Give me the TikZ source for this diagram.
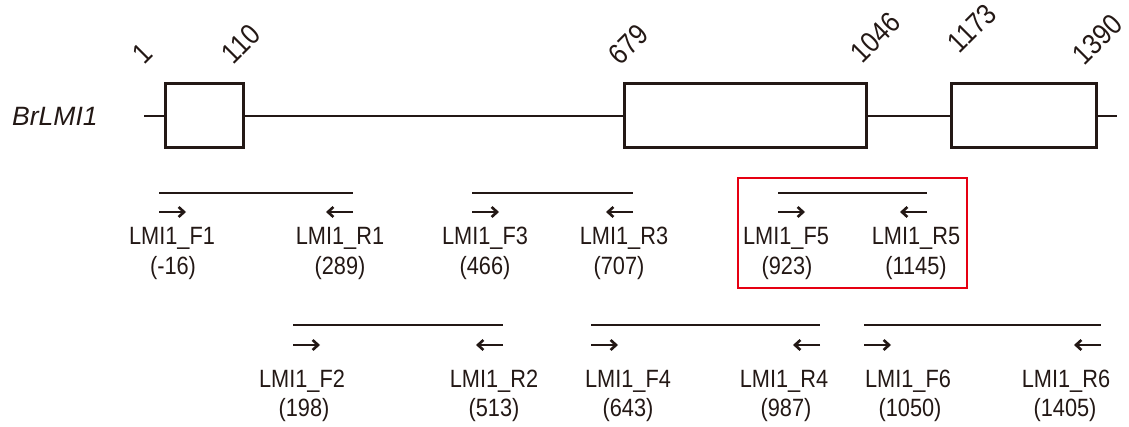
\documentclass[tikz,border=0pt]{standalone}
\usepackage{fontspec}
\setmainfont{Liberation Sans}
\newfontfamily\narrowsans[FakeStretch=0.87]{Liberation Sans}
\usetikzlibrary{arrows.meta}
\definecolor{ink}{HTML}{231815}
\definecolor{boxred}{HTML}{E60012}
\tikzset{
  exon/.style={draw=ink, line width=3pt, fill=white, inner sep=0pt, minimum height=64pt},
  intron/.style={draw=ink, line width=2.2pt},
  boundary/.style={rotate=45, anchor=south west, inner sep=0pt, font=\narrowsans\fontsize{29}{29}\selectfont, text=ink},
  amplicon/.style={draw=ink, line width=2.6pt},
  fwd/.style={draw=ink, line width=2.6pt, -{Straight Barb[length=5.5pt,width=10pt]}},
  plabel/.style={anchor=base, inner sep=0pt, font=\narrowsans\fontsize{25}{25}\selectfont, text=ink},
  highlight/.style={draw=boxred, line width=2pt, inner sep=0pt},
}
\begin{document}
\begin{tikzpicture}[x=1pt,y=-1pt]
\path[use as bounding box] (0,0) rectangle (1129,427);

% gene model
\node[anchor=base west, inner sep=0pt, text=ink, font=\itshape\fontsize{26.5}{26.5}\selectfont] (gene) at (12,126) {BrLMI1};
\coordinate (g0) at (144,116);
\coordinate (g1) at (1117,116);
\node[exon, minimum width=78pt]  (e1) at (204,116) {};
\node[exon, minimum width=242pt] (e2) at (745,116) {};
\node[exon, minimum width=145pt] (e3) at (1023.5,116) {};
\draw[intron] (g0) -- (e1.west);
\draw[intron] (e1.east) -- (e2.west);
\draw[intron] (e2.east) -- (e3.west);
\draw[intron] (e3.east) -- (g1);

% exon boundary positions
\node[boundary] (p1)    at (144,66) {1};
\node[boundary] (p110)  at (234,66) {110};
\node[boundary] (p679)  at (621,67) {679};
\node[boundary] (p1046) at (863,65) {1046};
\node[boundary] (p1173) at (960,55) {1173};
\node[boundary] (p1390) at (1085,67) {1390};

% primer pairs, upper row
\coordinate (F1) at (159,193); \coordinate (R1) at (353,193);
\coordinate (F3) at (472,193); \coordinate (R3) at (633,193);
\coordinate (F5) at (778,193); \coordinate (R5) at (927,193);
% primer pairs, lower row
\coordinate (F2) at (293,325); \coordinate (R2) at (503,325);
\coordinate (F4) at (591,325); \coordinate (R4) at (820,325);
\coordinate (F6) at (864,325); \coordinate (R6) at (1101,325);

\foreach \f/\r in {F1/R1,F3/R3,F5/R5}{
  \draw[amplicon] (\f) -- (\r);
  \draw[fwd] ([yshift=-19pt]\f) -- ++(27,0);
  \draw[fwd] ([yshift=-19pt]\r) -- ++(-27,0);
}
\foreach \f/\r in {F2/R2,F4/R4,F6/R6}{
  \draw[amplicon] (\f) -- (\r);
  \draw[fwd] ([yshift=-20pt]\f) -- ++(27,0);
  \draw[fwd] ([yshift=-20pt]\r) -- ++(-27,0);
}

% upper row labels
\node[plabel] (lF1) at (172,245) {LMI1\_F1};  \node[plabel] (nF1) at (173,275) {(-16)};
\node[plabel] (lR1) at (340,245) {LMI1\_R1};  \node[plabel] (nR1) at (340,275) {(289)};
\node[plabel] (lF3) at (485,245) {LMI1\_F3};  \node[plabel] (nF3) at (485,275) {(466)};
\node[plabel] (lR3) at (624,245) {LMI1\_R3};  \node[plabel] (nR3) at (619,275) {(707)};
\node[plabel] (lF5) at (786,245) {LMI1\_F5};  \node[plabel] (nF5) at (787,275) {(923)};
\node[plabel] (lR5) at (916,245) {LMI1\_R5};  \node[plabel] (nR5) at (916,275) {(1145)};

% lower row labels
\node[plabel] (lF2) at (302,387)  {LMI1\_F2}; \node[plabel] (nF2) at (304,416)  {(198)};
\node[plabel] (lR2) at (494,387)  {LMI1\_R2}; \node[plabel] (nR2) at (494,416)  {(513)};
\node[plabel] (lF4) at (628,387)  {LMI1\_F4}; \node[plabel] (nF4) at (628,416)  {(643)};
\node[plabel] (lR4) at (784,387)  {LMI1\_R4}; \node[plabel] (nR4) at (786,416)  {(987)};
\node[plabel] (lF6) at (908,387)  {LMI1\_F6}; \node[plabel] (nF6) at (910,416)  {(1050)};
\node[plabel] (lR6) at (1066,387) {LMI1\_R6}; \node[plabel] (nR6) at (1065,416) {(1405)};

% highlighted pair
\node[highlight, minimum width=229pt, minimum height=110pt] (sel) at (852.5,233) {};
\end{tikzpicture}
\end{document}
